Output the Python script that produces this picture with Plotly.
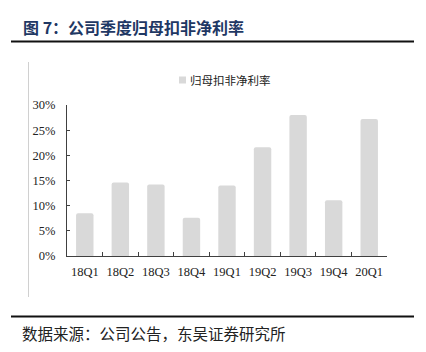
import plotly.graph_objects as go

categories = ["18Q1", "18Q2", "18Q3", "18Q4", "19Q1", "19Q2", "19Q3", "19Q4", "20Q1"]
values = [8.5, 14.6, 14.2, 7.6, 14.0, 21.6, 28.0, 11.1, 27.2]
y_ticks = [0, 5, 10, 15, 20, 25, 30]
y_tick_labels = ["0%", "5%", "10%", "15%", "20%", "25%", "30%"]
series_name = "归母扣非净利率"
title_text = "图 7：公司季度归母扣非净利率"
source_text = "数据来源：公司公告，东吴证券研究所"
bar_color = "#d9d9d9"

W, H = 426, 352
L, R, T, B = 67, 39, 105, 96
pw, ph = W - L - R, H - T - B

def px(x):
    return (x - L) / pw

def py(y):
    return (H - B - y) / ph

fig = go.Figure()
fig.add_trace(go.Bar(
    x=categories, y=values, name=series_name,
    marker=dict(color=bar_color, line=dict(width=0)),
    width=0.49, showlegend=False,
))

fig.update_layout(
    width=W, height=H,
    margin=dict(l=L, r=R, t=T, b=B, pad=0),
    paper_bgcolor="white", plot_bgcolor="white",
    barcornerradius=2,
    xaxis=dict(
        type="category", showline=True, linecolor="#404040", linewidth=1,
        ticks="inside", ticklen=4, tickcolor="#404040", tickson="boundaries",
        tickangle=0, ticklabelstandoff=4,
        tickfont=dict(family="Liberation Serif", size=12.5, color="#222"),
        showgrid=False, zeroline=False,
    ),
    yaxis=dict(
        range=[0, 30], tickvals=y_ticks, ticktext=y_tick_labels,
        showline=True, linecolor="#404040", linewidth=1,
        ticks="inside", ticklen=3, tickcolor="#404040",
        tickfont=dict(family="Liberation Serif", size=12.5, color="#222"),
        showgrid=False, zeroline=False, ticklabelstandoff=8,
    ),
)

# legend (manual)
fig.add_shape(type="rect", xref="paper", yref="paper",
              x0=px(179), x1=px(186), y0=py(76.5), y1=py(83.5),
              fillcolor=bar_color, line=dict(width=0))
fig.add_annotation(
    text=series_name, xref="paper", yref="paper",
    x=px(188), y=py(80), xanchor="left", yanchor="middle", showarrow=False,
    font=dict(family="Noto Sans CJK SC", size=11.5, color="#222"),
)

fig.add_annotation(
    text="<b>" + title_text + "</b>", xref="paper", yref="paper",
    x=px(21), y=py(27), xanchor="left", yanchor="middle", showarrow=False,
    font=dict(family="Noto Sans CJK SC", size=16, color="#1f3864"),
)
fig.add_annotation(
    text=source_text, xref="paper", yref="paper",
    x=px(20), y=py(333), xanchor="left", yanchor="middle", showarrow=False,
    font=dict(family="Noto Sans CJK SC", size=15.5, color="#222"),
)
fig.add_shape(type="line", xref="paper", yref="paper",
              x0=px(11), x1=px(414), y0=py(41.5), y1=py(41.5),
              line=dict(color="#111", width=2))
fig.add_shape(type="line", xref="paper", yref="paper",
              x0=px(11), x1=px(414), y0=py(316.5), y1=py(316.5),
              line=dict(color="#111", width=2))
fig.add_shape(type="line", xref="paper", yref="paper",
              x0=px(28.5), x1=px(28.5), y0=py(62), y1=py(297),
              line=dict(color="#d0d0d0", width=1))

fig.write_html("out.html")
